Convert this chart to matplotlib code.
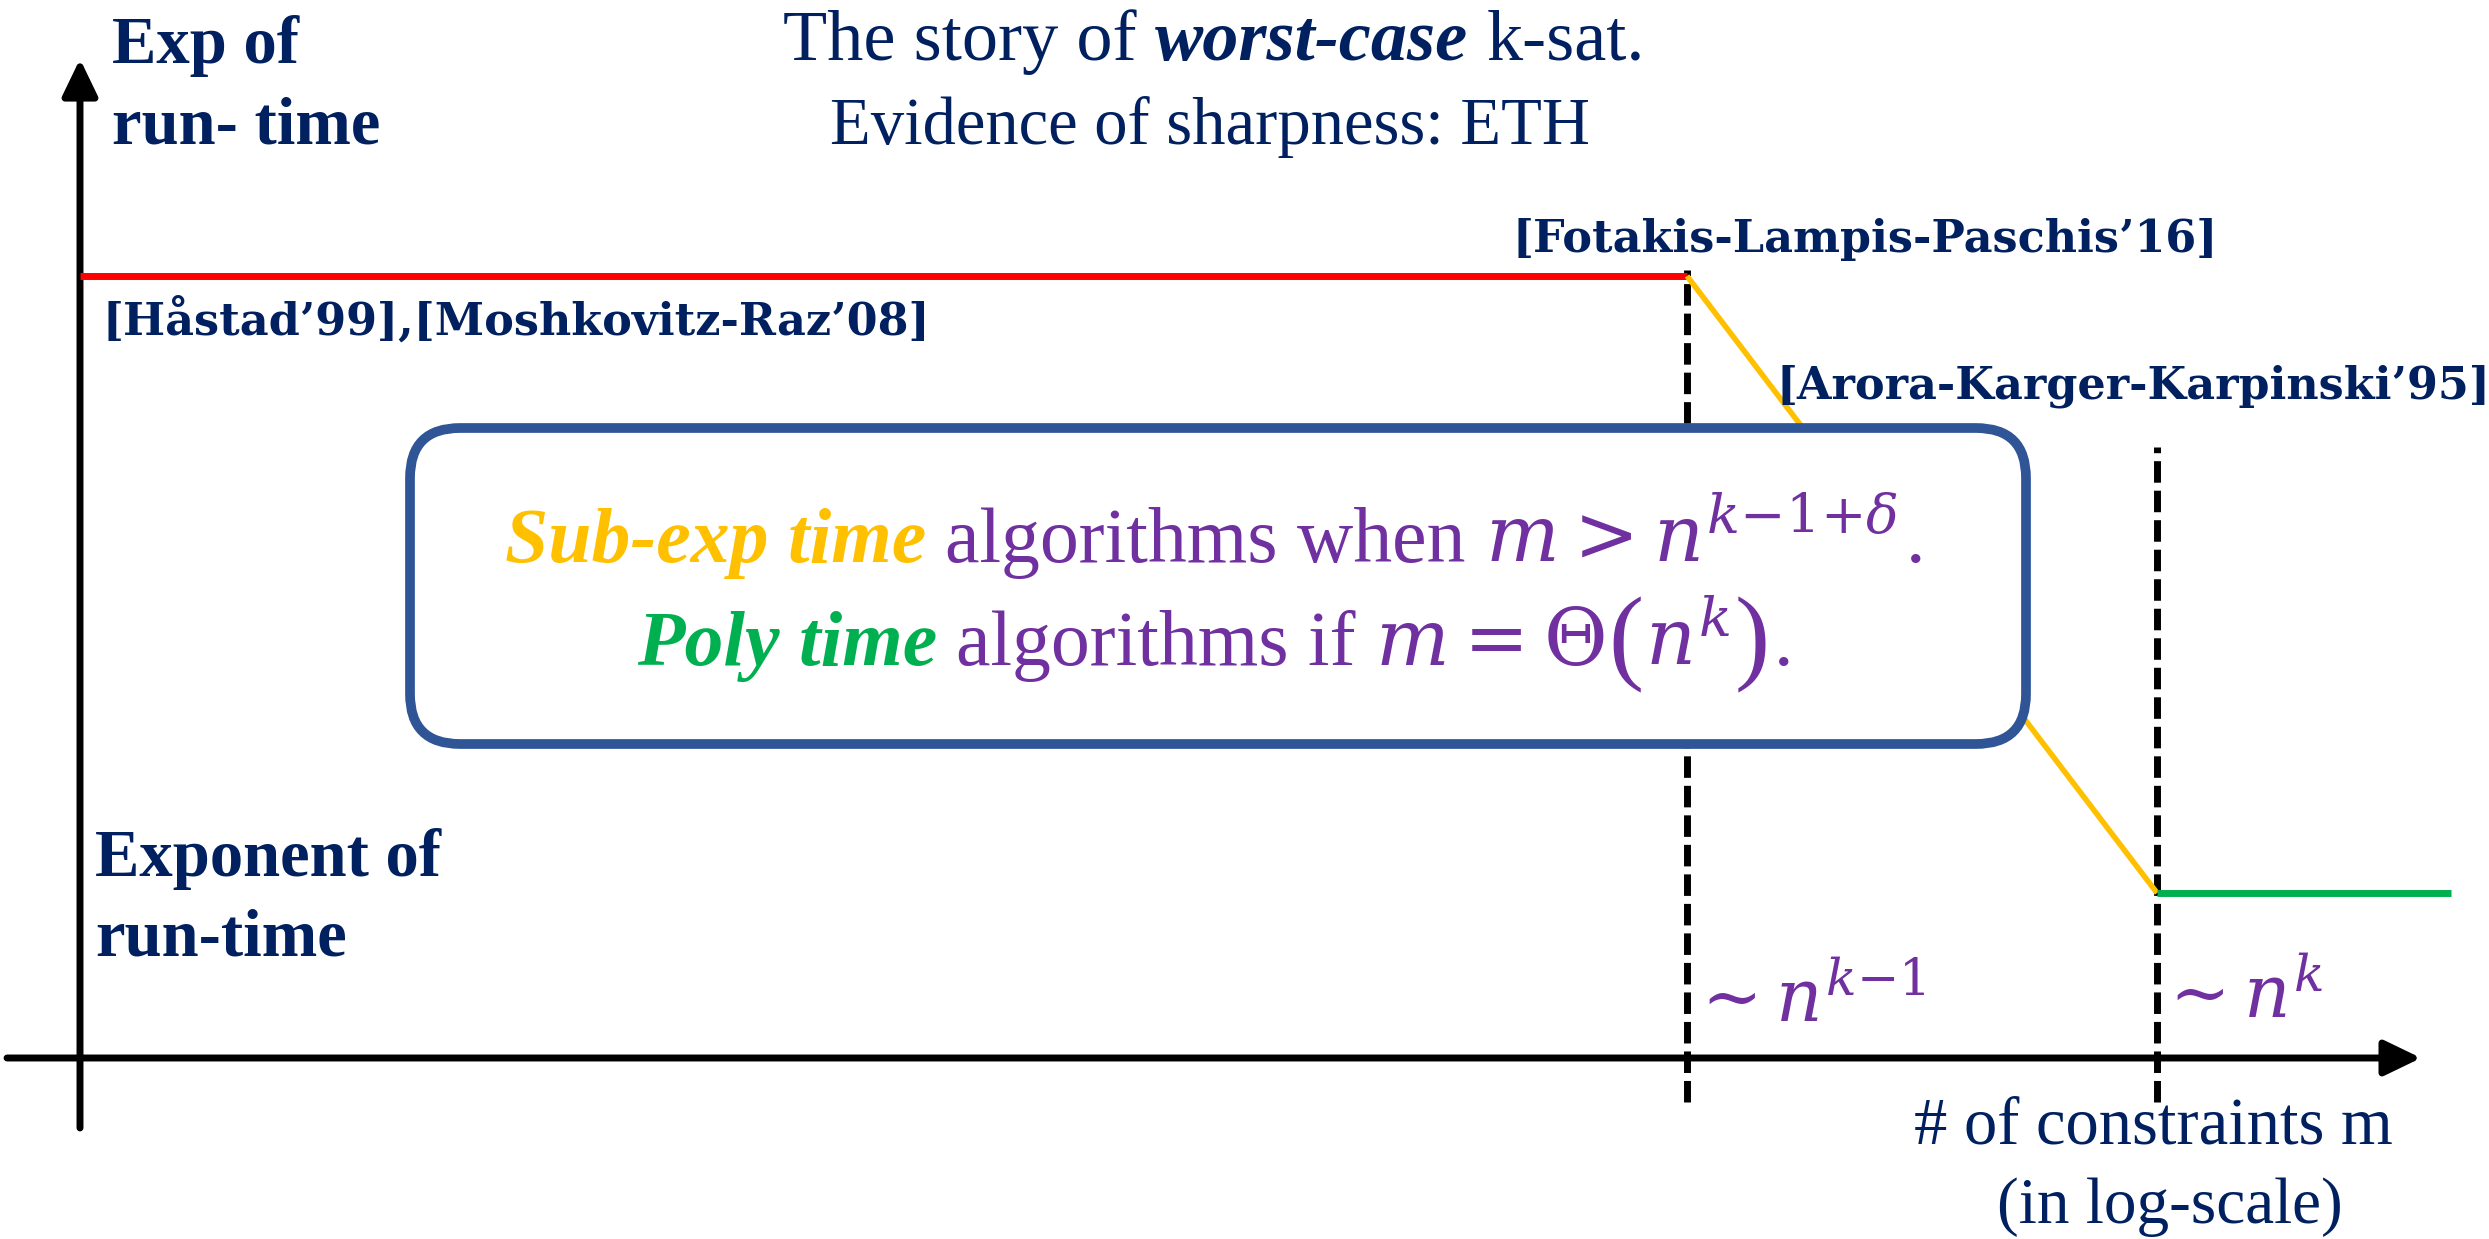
import matplotlib
matplotlib.use("Agg")
import matplotlib.pyplot as plt
from matplotlib.patches import FancyBboxPatch
from matplotlib.transforms import Affine2D

# ---------------- data (x: log-scale of m, y: exponent of run-time) -------------
red_x = [0.0, 1.0]          # exp time up to n^{k-1}
red_y = [1.0, 1.0]
yellow_x = [1.0, 1.2925]    # sub-exp between n^{k-1} and n^k
yellow_y = [1.0, 0.211]
green_x = [1.2925, 1.4754]  # poly time beyond n^k
green_y = [0.211, 0.211]
threshold_x = [1.0, 1.2925]
threshold_top = [1.0077, 0.7813]
threshold_bottom = -0.0563
threshold_labels = [r"$\sim n^{k{-}1}$", r"$\sim n^{k}$"]

NAVY = "#002060"
PURPLE = "#7030A0"
GOLD = "#FFC000"
GREEN = "#00B050"
BOXBLUE = "#2F5597"
SERIF = ["Liberation Serif", "DejaVu Serif"]
SLAB = ["DejaVu Serif"]

plt.rcParams["mathtext.fontset"] = "dejavuserif"

W, H = 2489, 1239
fig = plt.figure(figsize=(W / 100, H / 100), dpi=100)
ax = fig.add_axes([0, 0, 1, 1])
ax.set_xlim(-0.04978, 1.49907)
ax.set_ylim(-0.23146, 1.35294)
ax.axis("off")

# axes arrows
arrow_style = "-|>,head_length=1.12,head_width=0.54"
ax.annotate("", xy=(1.4568, 0), xytext=(-0.0454, 0),
            arrowprops=dict(arrowstyle=arrow_style, mutation_scale=20, lw=5,
                            color="black", shrinkA=0, shrinkB=0), zorder=3)
ax.annotate("", xy=(0, 1.2775), xytext=(0, -0.0895),
            arrowprops=dict(arrowstyle=arrow_style, mutation_scale=20, lw=5,
                            color="black", shrinkA=0, shrinkB=0), zorder=3)

# thresholds
for xv, top in zip(threshold_x, threshold_top):
    ax.plot([xv, xv], [threshold_bottom, top], color="black", lw=5,
            dashes=(3.1, 1.15), solid_capstyle="butt", zorder=2)

ax.plot(red_x, red_y, color="#FF0000", lw=5, solid_capstyle="butt", zorder=4)
ax.plot(yellow_x, yellow_y, color=GOLD, lw=4, solid_capstyle="butt", zorder=4)
ax.plot(green_x, green_y, color=GREEN, lw=5, solid_capstyle="butt", zorder=4)

# ---------------- helpers in reference-pixel coordinates -----------------
pix = Affine2D().scale(1 / W, -1 / H).translate(0, 1) + fig.transFigure
renderer = fig.canvas.get_renderer()


def em(size):
    return size * 100 / 72.0


def rich_line(pieces, x, y, align="left"):
    cur = 0.0
    texts = []
    for piece in pieces:
        s, kw, gap = piece[:3]
        dy = piece[3] if len(piece) > 3 else 0
        cur += gap
        t = fig.text(x + cur, y + dy, s, va="baseline", ha="left",
                     transform=pix, **kw)
        bb = t.get_window_extent(renderer)
        texts.append((t, x + cur))
        cur += bb.width
    if align == "center":
        for t, xx in texts:
            t.set_x(xx - cur / 2.0)
    return cur


def txt(x, y, s, **kw):
    kw.setdefault("va", "baseline")
    return fig.text(x, y, s, transform=pix, **kw)


# box
box = FancyBboxPatch((410, 428), 2026 - 410, 744 - 428,
                     boxstyle="round,pad=0,rounding_size=50",
                     transform=pix, facecolor="white", edgecolor=BOXBLUE,
                     lw=7, zorder=2)
fig.add_artist(box)

# axis labels
LS = 48
txt(112, 63, "Exp of", family=SERIF, weight="bold", size=LS, color=NAVY)
txt(112, 143, "run- time", family=SERIF, weight="bold", size=LS, color=NAVY)
txt(95, 876, "Exponent of", family=SERIF, weight="bold", size=LS, color=NAVY)
txt(95, 955, "run-time", family=SERIF, weight="bold", size=LS, color=NAVY)

# title
TS = 52
rich_line([
    ("The story of", dict(family=SERIF, size=TS, color=NAVY), 0),
    ("worst-case", dict(family=SERIF, size=TS, color=NAVY, weight="bold",
                        style="italic"), em(TS) * 0.25),
    ("k-sat.", dict(family=SERIF, size=TS, color=NAVY), em(TS) * 0.25),
], 1214, 60, align="center")
txt(1210, 144, "Evidence of sharpness: ETH", family=SERIF, size=48,
    color=NAVY, ha="center")

# references
RS = 32
txt(1513, 252, "[Fotakis-Lampis-Paschis\u201916]", family=SLAB, weight="bold",
    size=RS, color=NAVY)
txt(103, 335, "[H\u00e5stad\u201999],[Moshkovitz-Raz\u201908]", family=SLAB,
    weight="bold", size=RS, color=NAVY)
txt(1777, 398, "[Arora-Karger-Karpinski\u201995]", family=SLAB, weight="bold",
    size=RS, color=NAVY)

# box text
BS = 56
sp = em(BS) * 0.25
rich_line([
    ("Sub-exp time", dict(family=SERIF, size=BS, color=GOLD, weight="bold",
                          style="italic"), 0),
    ("algorithms when", dict(family=SERIF, size=BS, color=PURPLE), sp),
    (r"$m>n^{k{-}1{+}\delta}$", dict(size=BS, color=PURPLE), sp),
    (".", dict(family=SERIF, size=BS, color=PURPLE), 8),
], 1215, 562, align="center")
rich_line([
    ("Poly time", dict(family=SERIF, size=BS, color=GREEN, weight="bold",
                       style="italic"), 0),
    ("algorithms if", dict(family=SERIF, size=BS, color=PURPLE), sp),
    (r"$m=\Theta$", dict(size=BS, color=PURPLE), sp),
    ("(", dict(family=SERIF, size=76, color=PURPLE), 3, 5),
    (r"$n^{k}$", dict(size=BS, color=PURPLE), 2),
    (")", dict(family=SERIF, size=76, color=PURPLE), 4, 5),
    (".", dict(family=SERIF, size=BS, color=PURPLE), 4),
], 1215, 665, align="center")

# threshold labels
txt(1688, 1022, threshold_labels[0], size=52, color=PURPLE)
txt(2156, 1018, threshold_labels[1], size=52, color=PURPLE)

# x label
txt(2153, 1143, "# of constraints m", family=SERIF, size=48, color=NAVY,
    ha="center")
txt(2170, 1223, "(in log-scale)", family=SERIF, size=47, color=NAVY,
    ha="center")

fig.savefig("out.png", dpi=100)
